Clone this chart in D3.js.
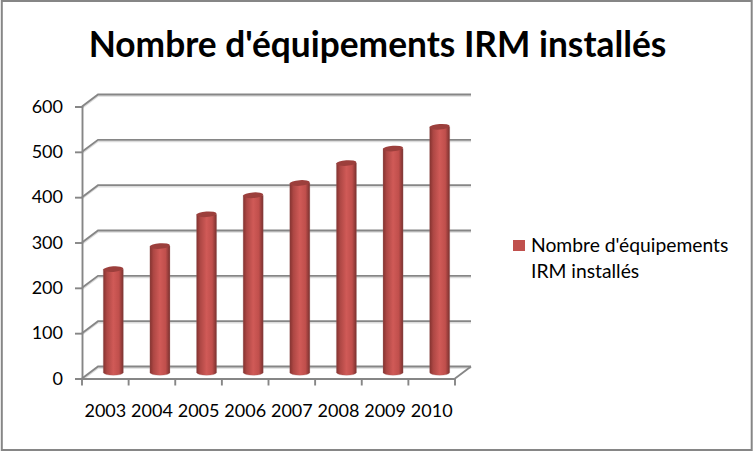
<!DOCTYPE html>
<html>
<head>
<meta charset="utf-8">
<script src="https://cdn.jsdelivr.net/npm/d3@7"></script>
<style>
  html, body { margin: 0; padding: 0; background: #fff; }
  svg { display: block; }
  text { font-family: Lato, "Open Sans", sans-serif; fill: #000; }
</style>
</head>
<body>
<div id="chart"></div>
<script>
const years = ["2003", "2004", "2005", "2006", "2007", "2008", "2009", "2010"];
const equipements = [228, 279, 349, 391, 418, 462, 494, 542];
const yTicks = [0, 100, 200, 300, 400, 500, 600];
const title = "Nombre d'équipements IRM installés";
const legendLines = ["Nombre d'équipements", "IRM installés"];

const W = 753, H = 451;
const margin = {top: 106.5, right: 298, bottom: 72.5, left: 82};
const width = W - margin.left - margin.right;
const height = H - margin.top - margin.bottom;
// 3D wall offset
const depth = {x: 16, y: -12};
const axisColor = "#868686";

const svg = d3.select("#chart").append("svg")
    .attr("width", W)
    .attr("height", H);

svg.append("rect")
    .attr("x", 1.8).attr("y", 1)
    .attr("width", W - 3.1).attr("height", H - 2)
    .attr("fill", "#fff")
    .attr("stroke", axisColor)
    .attr("stroke-width", 2);

const defs = svg.append("defs");
const cyl = defs.append("linearGradient").attr("id", "cyl");
cyl.append("stop").attr("offset", "0%").attr("stop-color", "#83322f");
cyl.append("stop").attr("offset", "18%").attr("stop-color", "#ad4744");
cyl.append("stop").attr("offset", "50%").attr("stop-color", "#d05a57");
cyl.append("stop").attr("offset", "78%").attr("stop-color", "#c04f4c");
cyl.append("stop").attr("offset", "100%").attr("stop-color", "#79302e");

const g = svg.append("g")
    .attr("transform", `translate(${margin.left}, ${margin.top})`);

const x = d3.scaleBand().domain(years).range([0, width]);
const y = d3.scaleLinear().domain([0, 600]).range([height, 0]);

// walls: gridlines run along the side wall then the back wall
const wallPath = d => {
    const yy = y(d);
    return `M0,${yy}L${depth.x},${yy + depth.y}L${width + depth.x},${yy + depth.y}`;
};

g.selectAll(".grid-shadow")
    .data(yTicks)
    .enter()
    .append("path")
    .attr("class", "grid-shadow")
    .attr("d", wallPath)
    .attr("transform", "translate(0, 1.6)")
    .attr("fill", "none")
    .attr("stroke", "#dcdcdc")
    .attr("stroke-width", 1.5);

g.selectAll(".grid")
    .data(yTicks)
    .enter()
    .append("path")
    .attr("class", "grid")
    .attr("d", wallPath)
    .attr("fill", "none")
    .attr("stroke", axisColor)
    .attr("stroke-width", 1.9);

// floor right edge
g.append("path")
    .attr("d", `M${width},${height}L${width + depth.x},${height + depth.y}`)
    .attr("fill", "none")
    .attr("stroke", axisColor)
    .attr("stroke-width", 1.9);

const yAxis = g.append("g")
    .attr("class", "axis axis-y")
    .call(d3.axisLeft(y).tickValues(yTicks).tickSize(7).tickPadding(12).tickFormat(d3.format("d")));

const xAxis = g.append("g")
    .attr("class", "axis axis-x")
    .attr("transform", `translate(0, ${height})`)
    .call(d3.axisBottom(x).tickSize(0).tickPadding(26));

[yAxis, xAxis].forEach(a => {
    a.selectAll("path, line").attr("stroke", axisColor).attr("stroke-width", 1.9);
    a.selectAll("text").style("font-size", "18px").attr("fill", "#000");
});

// x ticks sit on the band edges
g.selectAll(".x-tick")
    .data(years.concat("end"))
    .enter()
    .append("line")
    .attr("class", "x-tick")
    .attr("x1", (d, i) => i * x.step())
    .attr("x2", (d, i) => i * x.step())
    .attr("y1", height)
    .attr("y2", height + 7)
    .attr("stroke", axisColor)
    .attr("stroke-width", 1.9);

// cylinders
const barW = x.bandwidth() * 0.43;
const ry = 2.8;
const cx = d => x(d) + x.bandwidth() / 2 + depth.x / 2;
const base = height + depth.y / 2;
const topY = v => y(v) + depth.y / 2;
const rx = barW / 2;

const bars = g.selectAll(".bar")
    .data(years.map((d, i) => ({year: d, value: equipements[i]})))
    .enter()
    .append("g")
    .attr("class", "bar");

bars.append("path")
    .attr("d", d => {
        const l = cx(d.year) - rx, r = cx(d.year) + rx;
        return `M${l},${topY(d.value)}L${l},${base}A${rx},${ry} 0 0 0 ${r},${base}L${r},${topY(d.value)}Z`;
    })
    .attr("fill", "url(#cyl)")
    .attr("stroke", "#a07070")
    .attr("stroke-opacity", 0.35)
    .attr("stroke-width", 0.8);

bars.append("ellipse")
    .attr("cx", d => cx(d.year))
    .attr("cy", d => topY(d.value))
    .attr("rx", rx)
    .attr("ry", ry)
    .attr("transform", d => `rotate(-4, ${cx(d.year)}, ${topY(d.value)})`)
    .attr("fill", "#9c3f3c");

svg.append("text")
    .attr("x", 377.5)
    .attr("y", 57)
    .attr("text-anchor", "middle")
    .style("font-size", "35.3px")
    .style("font-weight", 700)
    .text(title);

svg.append("rect")
    .attr("x", 513).attr("y", 240)
    .attr("width", 12).attr("height", 11)
    .attr("fill", "#c0504d");

svg.selectAll(".legend-line")
    .data(legendLines)
    .enter()
    .append("text")
    .attr("class", "legend-line")
    .attr("x", 531)
    .attr("y", (d, i) => 251.5 + i * 26)
    .style("font-size", "19.3px")
    .text(d => d);
</script>
</body>
</html>
